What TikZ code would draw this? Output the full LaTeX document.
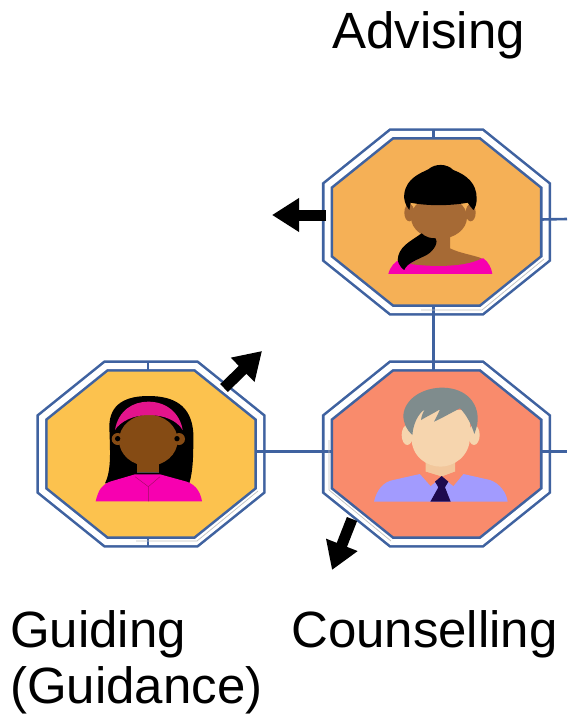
\documentclass[tikz,border=0pt]{standalone}
\usepackage{fontspec}
\setmainfont{Liberation Sans}
\usetikzlibrary{arrows.meta}
\definecolor{rimblue}{HTML}{3F62A0}
\definecolor{advisefill}{HTML}{F5B056}
\definecolor{counselfill}{HTML}{F98B6C}
\definecolor{guidefill}{HTML}{FCC24E}
\definecolor{skinbrown}{HTML}{A66A35}
\definecolor{skindark}{HTML}{854B14}
\definecolor{skinlight}{HTML}{F6D5AE}
\definecolor{necklight}{HTML}{F2C79C}
\definecolor{shirtpink}{HTML}{F700B0}
\definecolor{bandpink}{HTML}{E3148C}
\definecolor{shirtblue}{HTML}{A29BFE}
\definecolor{hairgrey}{HTML}{7F8C8D}
\definecolor{tienavy}{HTML}{1E0A4E}
\newcommand{\octagon}[3]{
    \draw[rim,fill=#3] (#2) ++(-45,-88) -- ++(90,0) -- ++(64,51.5) -- ++(0,73) -- ++(-64,51.5) -- ++(-90,0) -- ++(-64,-51.5) -- ++(0,-73) -- cycle;
    \node (#1) at (#2) [octabox] {};
}
\begin{document}
\begin{tikzpicture}[x=1pt,y=-1pt,
    rim/.style={draw=rimblue,line width=2.6pt,double=white,double distance=6pt,line join=miter},
    octabox/.style={rectangle,minimum width=227pt,minimum height=184pt,inner sep=0pt,outer sep=0pt},
    link/.style={rimblue,line width=2.6pt},
    ghost/.style={black!25,line width=0.7pt},
    push/.style={line width=11pt,-{Triangle[length=27pt,width=32pt]}},
    title/.style={inner sep=0pt,anchor=base west,font=\fontsize{51}{60}\selectfont}]
    \useasboundingbox (0,0) rectangle (567,714);
    \octagon{advising}{436.5,222}{advisefill}
    \octagon{counselling}{436.5,454}{counselfill}
    \octagon{guiding}{151,454}{guidefill}
    \coordinate (adviseright) at (567,219);
    \coordinate (counselright) at (567,451.5);
    \coordinate (advisetail) at (326,215);
    \coordinate (advisetip) at (272,215);
    \coordinate (guidetail) at (224,388);
    \coordinate (guidetip) at (262,351);
    \coordinate (counseltail) at (352,519);
    \coordinate (counseltip) at (332,570);
    % links
    \draw[link] ([xshift=-3pt]advising.north) -- ++(0,9);
    \draw[link] ([xshift=-3pt]advising.south) ++(0,-9) -- ([xshift=-3pt]counselling.north) -- ++(0,9);
    \draw[link] ([xshift=-3pt]guiding.north) -- ++(0,9);
    \draw[link] ([xshift=-3pt]guiding.south) -- ++(0,-9);
    \draw[link] ([yshift=2.5pt]advising.east) ++(-9,0) -- (adviseright);
    \draw[link] ([yshift=2.5pt]counselling.east) ++(-9,0) -- (counselright);
    \draw[link] ([yshift=2.5pt]guiding.east) ++(-9,0) -- ([yshift=2.5pt]counselling.west) -- ++(9,0);
    % stray hairlines
    \draw[ghost] (421,310) -- (482,310) -- (544,259);
    \draw[ghost] (136,541) -- (197,541) -- (258,491);
    \draw[ghost] (329,440) -- (329,490) -- (391,541);
    % arrows
    \draw[push] (advisetail) -- (advisetip);
    \draw[push] (guidetail) -- (guidetip);
    \draw[push] (counseltail) -- (counseltip);
    % advising face
    \begin{scope}[shift={(310,120)},scale=1/3]
        \fill[shirtpink] (235,462) .. controls (240,440) and (255,425) .. (270,418) -- (520,415) .. controls (535,425) and (545,445) .. (547,462) -- cycle;
        \fill[skinbrown] (375,340) -- (420,340) -- (420,385) .. controls (450,400) and (490,405) .. (515,415) .. controls (480,435) and (400,445) .. (300,432) -- (350,400) -- cycle;
        \fill[skinbrown] (387,292) ellipse (84 and 65);
        \fill[skinbrown] (298,278) ellipse (15 and 26);
        \fill[skinbrown] (482,278) ellipse (15 and 26);
        \fill[black] (298,270) .. controls (285,255) and (280,235) .. (283,220) .. controls (290,175) and (330,160) .. (355,148) .. controls (375,130) and (410,130) .. (430,150) .. controls (470,165) and (500,190) .. (500,235) .. controls (500,250) and (497,262) .. (490,270) .. controls (483,262) and (478,255) .. (473,248) .. controls (420,258) and (350,258) .. (302,248) -- cycle;
        \fill[black] (335,340) .. controls (300,365) and (265,380) .. (263,420) .. controls (265,435) and (280,450) .. (283,450) .. controls (290,430) and (320,420) .. (350,405) .. controls (375,390) and (385,365) .. (377,355) .. controls (360,355) and (345,350) .. (335,340) -- cycle;
    \end{scope}
    % guiding face
    \begin{scope}[shift={(30,340)},scale=1/3]
        \fill[black] (225,430) .. controls (245,390) and (240,330) .. (238,260) .. controls (238,190) and (290,168) .. (355,168) .. controls (430,168) and (485,195) .. (490,280) .. controls (490,340) and (490,390) .. (478,430) -- cycle;
        \fill[shirtpink] (197,484) .. controls (205,450) and (215,435) .. (240,425) -- (315,403) -- (390,403) -- (470,425) .. controls (500,435) and (512,460) .. (516,484) -- cycle;
        \fill[skindark] (322,360) -- (388,360) -- (388,398) -- (322,398) -- cycle;
        \draw[black!70,line width=0.8pt] (322,398) -- (388,398);
        \draw[bandpink!70!black,line width=0.4pt] (355,484) -- (355,440) -- (315,410) (355,440) -- (390,410);
        \fill[skindark] (355,301) ellipse (88 and 77);
        \fill[skindark] (263,297) circle (18);
        \fill[skindark] (447,297) circle (18);
        \fill[black] (263,296) circle (8);
        \fill[black] (441,296) circle (8);
        \fill[bandpink] (255,270) .. controls (265,210) and (310,185) .. (355,185) .. controls (410,185) and (450,220) .. (458,270) .. controls (440,240) and (400,225) .. (355,225) .. controls (310,225) and (270,245) .. (255,270) -- cycle;
    \end{scope}
    % counselling face
    \begin{scope}[shift={(310,350)},scale=1/3]
        \fill[shirtblue] (192,455) .. controls (200,420) and (220,395) .. (250,390) -- (330,372) -- (395,400) -- (460,372) -- (540,390) .. controls (570,400) and (590,430) .. (593,455) -- cycle;
        \fill[necklight] (347,330) -- (435,330) -- (435,366) -- (395,380) -- (347,366) -- cycle;
        \fill[counselfill] (330,372) -- (347,365) -- (395,380) -- (362,408) -- cycle;
        \fill[counselfill] (460,372) -- (435,365) -- (395,380) -- (430,408) -- cycle;
        \fill[tienavy] (395,378) -- (415,395) -- (405,412) -- (422,455) -- (361,455) -- (385,412) -- (375,395) -- cycle;
        \fill[skinlight] (292,255) ellipse (17 and 30);
        \fill[skinlight] (492,255) ellipse (17 and 30);
        \fill[skinlight] (304,180) -- (480,180) -- (480,260) .. controls (480,320) and (430,350) .. (392,350) .. controls (350,350) and (304,320) .. (304,260) -- cycle;
        \fill[hairgrey] (280,195) .. controls (285,145) and (340,112) .. (400,113) .. controls (470,115) and (505,160) .. (503,210) .. controls (503,225) and (497,240) .. (493,252) .. controls (485,225) and (470,195) .. (450,175) .. controls (420,190) and (395,205) .. (372,215) .. controls (380,200) and (385,190) .. (390,178) .. controls (370,190) and (350,200) .. (333,210) .. controls (335,195) and (340,185) .. (345,178) .. controls (325,190) and (310,220) .. (307,255) .. controls (290,240) and (280,220) .. (280,195) -- cycle;
    \end{scope}
    % labels
    \node (advisetext) at (332,49) [title] {Advising};
    \node (counseltext) at (291,647) [title] {Counselling};
    \node (guidetext) at (10,647) [title] {Guiding};
    \node (guidancetext) at (10,703) [title] {(Guidance)};
\end{tikzpicture}
\end{document}
